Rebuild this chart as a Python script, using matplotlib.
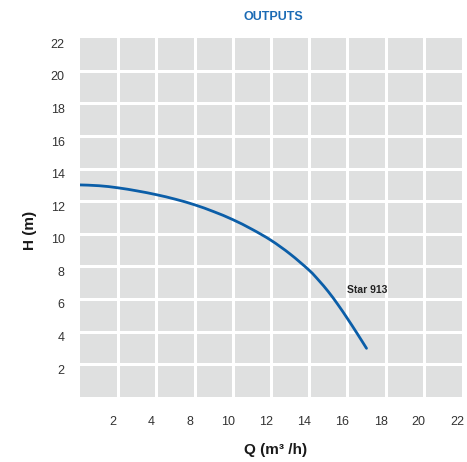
import matplotlib
matplotlib.use("Agg")
import matplotlib.pyplot as plt
from matplotlib.path import Path
from matplotlib.patches import PathPatch
from matplotlib.transforms import ScaledTranslation

plt.rcParams['font.family'] = ['Liberation Sans', 'DejaVu Sans']

# Data (x in axis positions, one grid column = 2 units)
q_values = [0, 1, 2, 3, 4, 5, 6, 7, 8, 9, 10, 11, 12, 12.5, 13, 13.5, 14, 14.5, 15]
h_values = [13.0, 12.95, 12.82, 12.63, 12.4, 12.12, 11.78, 11.36, 10.87, 10.28,
            9.6, 8.76, 7.76, 7.14, 6.45, 5.66, 4.8, 3.9, 2.97]
x_tick_pos = [2, 4, 6, 8, 10, 12, 14, 16, 18, 20]
x_tick_labels = ["2", "4", "8", "10", "12", "14", "16", "18", "20", "22"]
y_tick_pos = [2, 4, 6, 8, 10, 12, 14, 16, 18, 20, 22]
y_tick_labels = ["2", "4", "6", "8", "10", "12", "14", "16", "18", "20", "22"]
series_name = "Star 913"
title_text = "OUTPUTS"
x_label = "Q (m³ /h)"
y_label = "H (m)"

W, H = 467, 462
fig = plt.figure(figsize=(W / 100, H / 100), dpi=100)
ax = fig.add_axes([80 / W, (H - 396.7) / H, (462 - 80) / W, (396.7 - 38.3) / H])
ax.set_facecolor('#dfe0e0')
ax.set_xlim(0, 20)
ax.set_ylim(0, 22)

for x in x_tick_pos[:-1]:
    ax.axvline(x, color='white', lw=2.2, zorder=1)
for y in y_tick_pos[:-1]:
    ax.axhline(y, color='white', lw=2.2, zorder=1)

for s in ax.spines.values():
    s.set_visible(False)

# smooth curve through the read points (Catmull-Rom as cubic Bezier segments)
pts = list(zip(q_values, h_values))
verts = [pts[0]]
codes = [Path.MOVETO]
n = len(pts)
for i in range(n - 1):
    p0 = pts[i - 1] if i > 0 else pts[i]
    p1 = pts[i]
    p2 = pts[i + 1]
    p3 = pts[i + 2] if i + 2 < n else pts[i + 1]
    c1 = (p1[0] + (p2[0] - p0[0]) / 6, p1[1] + (p2[1] - p0[1]) / 6)
    c2 = (p2[0] - (p3[0] - p1[0]) / 6, p2[1] - (p3[1] - p1[1]) / 6)
    verts += [c1, c2, p2]
    codes += [Path.CURVE4] * 3
ax.add_patch(PathPatch(Path(verts, codes), facecolor='none', edgecolor='#0b5ea8',
                       lw=2.0, zorder=3, capstyle='round'))

ax.text(13.96, 6.58, series_name, fontsize=7.5, fontweight='bold',
        color='#222222', ha='left', va='center', zorder=4)

ax.set_xticks(x_tick_pos)
ax.set_xticklabels(x_tick_labels)
ax.set_yticks(y_tick_pos)
ax.set_yticklabels(y_tick_labels)
ax.tick_params(axis='both', length=0, labelsize=9, labelcolor='#333333')
ax.tick_params(axis='x', pad=14)
ax.tick_params(axis='y', pad=11)

for lbl in ax.get_xticklabels():
    lbl.set_transform(lbl.get_transform() + ScaledTranslation(-5 / 100, 0, fig.dpi_scale_trans))
for lbl in ax.get_yticklabels():
    lbl.set_transform(lbl.get_transform() + ScaledTranslation(0, -5 / 100, fig.dpi_scale_trans))

fig.text(273.5 / W, 1 - 17.5 / H, title_text, color='#1b6bb5', fontsize=9,
         fontweight='bold', ha='center', va='center')
fig.text(275.5 / W, 1 - 450 / H, x_label, color='#1a1a1a', fontsize=11,
         fontweight='bold', ha='center', va='center')
fig.text(30 / W, 1 - 230 / H, y_label, color='#1a1a1a', fontsize=11,
         fontweight='bold', ha='center', va='center', rotation=90)

fig.savefig('out.png', dpi=100)
